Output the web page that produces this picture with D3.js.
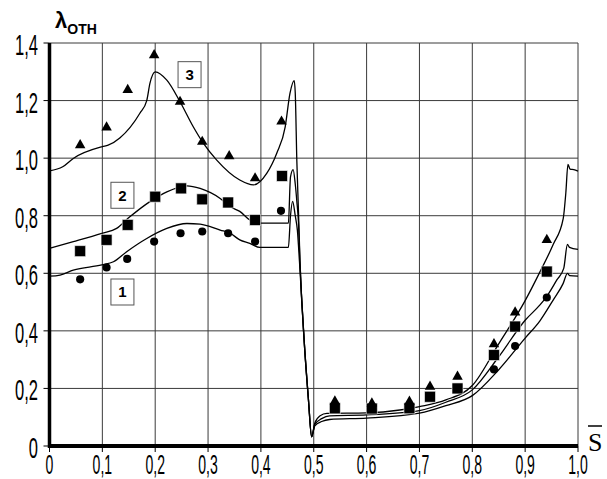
<!DOCTYPE html>
<html>
<head>
<meta charset="utf-8">
<script src="https://cdn.jsdelivr.net/npm/d3@7"></script>
<style>
  body { margin: 0; background: #fff; }
  svg { display: block; }
</style>
</head>
<body>
<div id="chart"></div>
<script>
// axis ticks
const xTicks = [0, 0.1, 0.2, 0.3, 0.4, 0.5, 0.6, 0.7, 0.8, 0.9, 1.0];
const xTickLabels = ["0", "0,1", "0,2", "0,3", "0,4", "0,5", "0,6", "0,7", "0,8", "0,9", "1,0"];
const yTicks = [0, 0.2, 0.4, 0.6, 0.8, 1.0, 1.2, 1.4];
const yTickLabels = ["0", "0,2", "0,4", "0,6", "0,8", "1,0", "1,2", "1,4"];

// calculated curves: [s, lambda]
const curve1 = [[0,0.59],[0.02,0.594],[0.045,0.611],[0.099,0.629],[0.121,0.64],[0.146,0.675],[0.184,0.721],
  [0.222,0.756],[0.26,0.773],[0.285,0.771],[0.323,0.75],[0.342,0.739],[0.36,0.716],[0.379,0.704],[0.398,0.69],
  [0.452,0.69],[0.456,0.8],[0.46,0.85],[0.465,0.8],[0.469,0.75],[0.473,0.64],[0.483,0.333],[0.49,0.16],
  [0.496,0.032],[0.502,0.07],[0.515,0.085],[0.53,0.092],[0.6,0.097],[0.7,0.114],[0.75,0.14],[0.8,0.175],
  [0.85,0.265],[0.9,0.375],[0.928,0.435],[0.953,0.507],[0.972,0.565],[0.98,0.6],[0.984,0.592],[1.0,0.59]];
const curve2 = [[0,0.687],[0.045,0.71],[0.099,0.739],[0.127,0.756],[0.152,0.796],[0.19,0.849],[0.222,0.883],
  [0.26,0.904],[0.285,0.895],[0.323,0.86],[0.342,0.831],[0.36,0.815],[0.379,0.785],[0.398,0.774],
  [0.452,0.774],[0.456,0.935],[0.461,0.96],[0.465,0.91],[0.468,0.85],[0.471,0.78],[0.474,0.635],
  [0.483,0.333],[0.49,0.16],[0.496,0.032],[0.502,0.075],[0.515,0.095],[0.53,0.105],[0.6,0.108],
  [0.7,0.123],[0.75,0.152],[0.8,0.195],[0.85,0.31],[0.9,0.437],[0.928,0.49],[0.941,0.52],[0.96,0.577],
  [0.973,0.617],[0.98,0.7],[0.984,0.69],[1.0,0.683]];
const curve3 = [[0,0.956],[0.025,0.97],[0.045,0.999],[0.1,1.04],[0.111,1.045],[0.133,1.07],[0.171,1.156],
  [0.184,1.2],[0.19,1.26],[0.2,1.3],[0.222,1.271],[0.247,1.196],[0.272,1.109],[0.291,1.052],[0.316,0.994],
  [0.36,0.924],[0.386,0.907],[0.411,0.947],[0.43,1.017],[0.446,1.109],[0.455,1.225],[0.463,1.269],
  [0.465,1.226],[0.468,0.99],[0.471,0.82],[0.474,0.64],[0.483,0.333],[0.49,0.16],[0.496,0.032],
  [0.502,0.079],[0.512,0.105],[0.525,0.113],[0.6,0.115],[0.663,0.125],[0.7,0.137],[0.75,0.16],
  [0.8,0.21],[0.85,0.355],[0.9,0.505],[0.928,0.605],[0.953,0.7],[0.972,0.79],[0.977,0.88],
  [0.981,0.978],[0.985,0.962],[0.992,0.96],[1.0,0.955]];

// experiment points
const circS = [0.058,0.108,0.147,0.198,0.248,0.289,0.338,0.389,0.438,0.841,0.881,0.941];
const circV = [0.579,0.62,0.65,0.71,0.739,0.745,0.739,0.71,0.817,0.266,0.347,0.516];
const sqS = [0.058,0.108,0.148,0.2,0.249,0.289,0.338,0.389,0.44,0.54,0.61,0.681,0.72,0.772,0.841,0.881,0.941];
const sqV = [0.677,0.716,0.768,0.866,0.895,0.857,0.846,0.785,0.938,0.131,0.13,0.131,0.171,0.2,0.316,0.415,0.606];
const triS = [0.058,0.108,0.148,0.198,0.247,0.289,0.34,0.389,0.439,0.54,0.61,0.681,0.72,0.772,0.841,0.881,0.941];
const triV = [1.045,1.107,1.237,1.358,1.196,1.057,1.007,0.93,1.127,0.155,0.148,0.154,0.206,0.241,0.354,0.464,0.716];

// curve numbers in boxes
const labels = [{ n: "1", s: 0.138, v: 0.535 }, { n: "2", s: 0.138, v: 0.871 }, { n: "3", s: 0.265, v: 1.29 }];

const svg = d3.select("#chart").append("svg")
  .attr("width", 607)
  .attr("height", 479);

const x = d3.scaleLinear().domain([0, 1]).range([49.5, 578]);
const y = d3.scaleLinear().domain([0, 1.4]).range([446, 43]);

// grid
svg.selectAll(".vgrid").data(xTicks.slice(1)).enter().append("line")
  .attr("x1", d => x(d)).attr("x2", d => x(d))
  .attr("y1", y(1.4)).attr("y2", y(0))
  .attr("stroke", "#3a3a3a").attr("stroke-width", 1);
svg.selectAll(".hgrid").data(yTicks.slice(1)).enter().append("line")
  .attr("x1", x(0)).attr("x2", x(1))
  .attr("y1", d => y(d)).attr("y2", d => y(d))
  .attr("stroke", "#3a3a3a").attr("stroke-width", 1);

// ticks
svg.selectAll(".xt").data(xTicks).enter().append("line")
  .attr("x1", d => x(d)).attr("x2", d => x(d))
  .attr("y1", y(0)).attr("y2", y(0) + 6)
  .attr("stroke", "#000").attr("stroke-width", 1);
svg.selectAll(".yt").data(yTicks).enter().append("line")
  .attr("x1", x(0) - 6).attr("x2", x(0))
  .attr("y1", d => y(d)).attr("y2", d => y(d))
  .attr("stroke", "#000").attr("stroke-width", 1);

// thick axes
svg.append("line").attr("x1", x(0)).attr("x2", x(0)).attr("y1", y(1.4)).attr("y2", y(0) + 2)
  .attr("stroke", "#000").attr("stroke-width", 3.5);
svg.append("line").attr("x1", x(0) - 1.5).attr("x2", x(1)).attr("y1", y(0)).attr("y2", y(0))
  .attr("stroke", "#000").attr("stroke-width", 4);

// tick labels
svg.selectAll(".xl").data(xTicks).enter().append("text")
  .attr("transform", d => `translate(${x(d)},474) scale(0.52,1)`)
  .attr("text-anchor", "middle")
  .attr("font-family", "Liberation Sans, Arial, sans-serif")
  .attr("font-size", 27)
  .text((d, i) => xTickLabels[i]);
svg.selectAll(".yl").data(yTicks).enter().append("text")
  .attr("transform", d => `translate(38,${y(d) + 12}) scale(0.57,1)`)
  .attr("text-anchor", "end")
  .attr("font-family", "Liberation Sans, Arial, sans-serif")
  .attr("font-size", 29)
  .text((d, i) => yTickLabels[i]);

// axis titles
const yt = svg.append("text").attr("x", 55).attr("y", 28)
  .attr("font-family", "Liberation Sans, Arial, sans-serif").attr("font-weight", "bold");
yt.append("tspan").attr("font-size", 22).text("λ");
yt.append("tspan").attr("font-size", 14).attr("dy", 6).text("ОТН");

svg.append("text").attr("x", 588).attr("y", 451)
  .attr("font-family", "Liberation Serif, Times New Roman, serif")
  .attr("font-size", 26).text("S");
svg.append("line").attr("x1", 588).attr("x2", 602).attr("y1", 426).attr("y2", 426)
  .attr("stroke", "#000").attr("stroke-width", 1.5);

// curves
const line = d3.line().x(d => x(d[0])).y(d => y(d[1])).curve(d3.curveMonotoneX);
[curve1, curve2, curve3].forEach(c => {
  svg.append("path").datum(c).attr("d", line)
    .attr("fill", "none").attr("stroke", "#000").attr("stroke-width", 1.3);
});

// markers
svg.selectAll(".circ").data(circS).enter().append("path")
  .attr("d", d3.symbol(d3.symbolCircle, 52))
  .attr("transform", (d, i) => `translate(${x(d)},${y(circV[i])})`)
  .attr("fill", "#000");
svg.selectAll(".sq").data(sqS).enter().append("path")
  .attr("d", d3.symbol(d3.symbolSquare, 121))
  .attr("transform", (d, i) => `translate(${x(d)},${y(sqV[i])})`)
  .attr("fill", "#000").attr("stroke", "#fff").attr("stroke-width", 0.6);
svg.selectAll(".tri").data(triS).enter().append("path")
  .attr("d", d3.symbol(d3.symbolTriangle, 48))
  .attr("transform", (d, i) => `translate(${x(d)},${y(triV[i])})`)
  .attr("fill", "#000");

// numbered boxes
const lb = svg.selectAll(".lb").data(labels).enter().append("g")
  .attr("transform", d => `translate(${x(d.s)},${y(d.v)})`);
lb.append("rect").attr("x", -11.5).attr("y", -13).attr("width", 23).attr("height", 26)
  .attr("fill", "#fff").attr("stroke", "#555").attr("stroke-width", 1);
lb.append("text").attr("text-anchor", "middle").attr("y", 5.5)
  .attr("font-family", "Liberation Sans, Arial, sans-serif").attr("font-weight", "bold")
  .attr("font-size", 15).text(d => d.n);
</script>
</body>
</html>
